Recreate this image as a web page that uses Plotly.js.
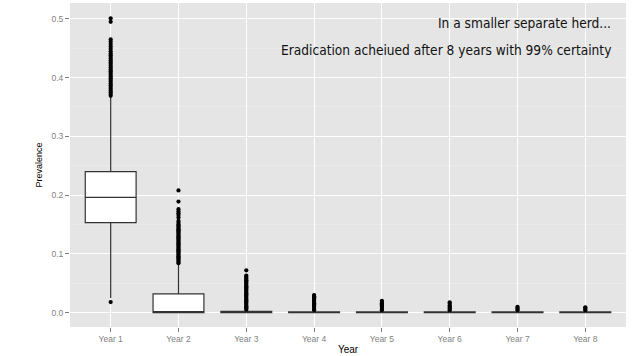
<!DOCTYPE html>
<html><head><meta charset="utf-8">
<script src="https://cdn.plot.ly/plotly-3.0.1.min.js"></script>
<style>html,body{margin:0;padding:0;background:#fff}#chart{width:635px;height:356px}</style>
</head><body><div id="chart"></div>
<script>
const years = ['Year 1','Year 2','Year 3','Year 4','Year 5','Year 6','Year 7','Year 8'];
const q1 = [0.153, 0, 0, 0, 0, 0, 0, 0];
const medians = [0.196, 0, 0, 0, 0, 0, 0, 0];
const q3 = [0.240, 0.032, 0.002, 0.0012, 0.0012, 0.0012, 0.0012, 0.0012];
const lowerFence = [0.025, 0, 0, 0, 0, 0, 0, 0];
const upperFence = [0.367, 0.082, 0.004, 0.0012, 0.0012, 0.0012, 0.0012, 0.0012];
const outY1 = [0.018, 0.369, 0.372, 0.375, 0.378, 0.381, 0.384, 0.387, 0.390, 0.393, 0.396, 0.399, 0.402, 0.405, 0.408, 0.411, 0.414, 0.417, 0.420, 0.423, 0.426, 0.429, 0.432, 0.435, 0.438, 0.441, 0.445, 0.449, 0.453, 0.457, 0.461, 0.465, 0.495, 0.501];
const outY2 = [0.084, 0.086, 0.088, 0.090, 0.092, 0.094, 0.096, 0.098, 0.100, 0.102, 0.104, 0.106, 0.108, 0.110, 0.112, 0.114, 0.116, 0.118, 0.120, 0.122, 0.124, 0.126, 0.128, 0.130, 0.132, 0.134, 0.136, 0.138, 0.140, 0.142, 0.144, 0.146, 0.148, 0.150, 0.153, 0.156, 0.162, 0.166, 0.169, 0.172, 0.176, 0.189, 0.208];
const outY3 = [0.005, 0.007, 0.009, 0.011, 0.013, 0.015, 0.017, 0.019, 0.021, 0.023, 0.025, 0.027, 0.029, 0.031, 0.033, 0.035, 0.037, 0.039, 0.041, 0.043, 0.045, 0.047, 0.049, 0.051, 0.053, 0.055, 0.057, 0.059, 0.061, 0.063, 0.072];
const outY4 = [0.004, 0.006, 0.008, 0.010, 0.012, 0.014, 0.016, 0.018, 0.020, 0.022, 0.024, 0.026, 0.028, 0.030];
const outY5 = [0.004, 0.006, 0.008, 0.010, 0.012, 0.014, 0.016, 0.018, 0.020];
const outY6 = [0.004, 0.006, 0.008, 0.010, 0.012, 0.015, 0.0175];
const outY7 = [0.004, 0.006, 0.008, 0.010];
const outY8 = [0.004, 0.006, 0.008, 0.009];
const outliers = [outY1, outY2, outY3, outY4, outY5, outY6, outY7, outY8];
const yTicks = [0, 0.1, 0.2, 0.3, 0.4, 0.5];
const note1 = 'In a smaller separate herd...';
const note2 = 'Eradication acheiued after 8 years with 99% certainty';

const outX = [], outV = [];
outliers.forEach((arr, i) => arr.forEach(v => { outX.push(years[i]); outV.push(v); }));

const traces = [
  {
    type: 'box', x: years, q1: q1, median: medians, q3: q3,
    lowerfence: lowerFence, upperfence: upperFence,
    width: 0.75, whiskerwidth: 0, boxpoints: false,
    fillcolor: '#ffffff', line: {color: '#333333', width: 1.2},
    hoverinfo: 'skip', showlegend: false
  },
  {
    type: 'scatter', mode: 'markers', x: outX, y: outV,
    marker: {color: '#000000', size: 4.2}, hoverinfo: 'skip', showlegend: false
  }
];

const layout = {
  width: 635, height: 356,
  margin: {l: 70, r: 9, t: 3, b: 29},
  paper_bgcolor: '#ffffff', plot_bgcolor: '#e5e5e5',
  showlegend: false,
  xaxis: {
    type: 'category', categoryorder: 'array', categoryarray: years,
    range: [-0.6, 7.6], showgrid: true, gridcolor: '#ffffff', gridwidth: 1,
    zeroline: false, showline: false,
    ticks: 'outside', ticklen: 4, tickcolor: '#7f7f7f', tickwidth: 1,
    tickfont: {family: 'Liberation Sans, Arial, sans-serif', size: 8.5, color: '#7f7f7f'},
    title: {text: 'Year', font: {family: 'Liberation Sans, Arial, sans-serif', size: 10, color: '#000000'}, standoff: 2}
  },
  yaxis: {
    range: [-0.0245, 0.527], tickvals: yTicks, tickformat: '.1f',
    showgrid: true, gridcolor: '#ffffff', gridwidth: 1,
    minor: {dtick: 0.1, tick0: 0.05, showgrid: true, gridcolor: '#f2f2f2', gridwidth: 0.5, ticks: ''},
    zeroline: false, showline: false,
    ticks: 'outside', ticklen: 4, tickcolor: '#7f7f7f', tickwidth: 1,
    tickfont: {family: 'Liberation Sans, Arial, sans-serif', size: 8.5, color: '#7f7f7f'},
    title: {text: 'Prevalence', font: {family: 'Liberation Sans, Arial, sans-serif', size: 9, color: '#000000'}, standoff: 7}
  },
  annotations: [
    {text: note1, xref: 'paper', yref: 'paper', x: 0.977, y: 0.938, xanchor: 'right', yanchor: 'middle', showarrow: false,
     font: {family: 'Liberation Sans Narrow, DejaVu Sans Condensed, sans-serif', size: 13.6, color: '#111111'}},
    {text: note2, xref: 'paper', yref: 'paper', x: 0.977, y: 0.855, xanchor: 'right', yanchor: 'middle', showarrow: false,
     font: {family: 'Liberation Sans Narrow, DejaVu Sans Condensed, sans-serif', size: 13.6, color: '#111111'}}
  ]
};

Plotly.newPlot('chart', traces, layout, {displayModeBar: false, staticPlot: true});
</script></body></html>
